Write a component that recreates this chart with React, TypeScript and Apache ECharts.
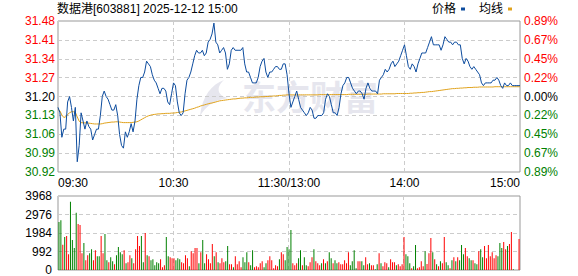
import React, { useEffect, useRef } from 'react';
import * as echarts from 'echarts';

const TITLE = '数据港[603881] 2025-12-12 15:00';
const PREV_CLOSE = 31.2;
const TICK_PCT = 0.2225; // one y tick step in percent

const priceTickLabels = ['30.92', '30.99', '31.06', '31.13', '31.20', '31.27', '31.34', '31.41', '31.48'];
const pctTickLabels = ['0.89%', '0.67%', '0.45%', '0.22%', '0.00%', '0.22%', '0.45%', '0.67%', '0.89%'];
const volTickLabels = ['0', '992', '1984', '2976', '3968'];

// price per minute, 09:30 .. 11:30/13:00 .. 15:00 (241 points)
const prices = [
  31.16, 31.14, 31.05, 31.08, 31.08, 31.18, 31.20, 31.16, 31.11, 31.16,
  30.96, 31.02, 31.14, 31.11, 31.08, 31.11, 31.09, 31.08, 31.04, 31.06,
  31.08, 31.08, 31.13, 31.20, 31.22, 31.20, 31.19, 31.17, 31.15, 31.15,
  31.17, 31.13, 31.06, 31.02, 31.01, 31.07, 31.05, 31.07, 31.10, 31.07,
  31.11, 31.19, 31.24, 31.27, 31.27, 31.29, 31.33, 31.32, 31.31, 31.28,
  31.26, 31.25, 31.23, 31.21, 31.23, 31.23, 31.22, 31.18, 31.17, 31.21,
  31.25, 31.24, 31.18, 31.14, 31.13, 31.14, 31.21, 31.26, 31.27, 31.29,
  31.32, 31.35, 31.37, 31.36, 31.36, 31.37, 31.35, 31.36, 31.40, 31.41,
  31.43, 31.47, 31.40, 31.39, 31.36, 31.37, 31.38, 31.36, 31.30, 31.32,
  31.37, 31.38, 31.37, 31.37, 31.37, 31.37, 31.38, 31.32, 31.29, 31.29,
  31.27, 31.25, 31.25, 31.25, 31.27, 31.31, 31.33, 31.34, 31.29, 31.27,
  31.29, 31.29, 31.30, 31.31, 31.31, 31.30, 31.30, 31.32, 31.32, 31.28,
  31.21, 31.16, 31.18, 31.20, 31.22, 31.19, 31.16, 31.15, 31.14, 31.13,
  31.14, 31.16, 31.15, 31.12, 31.12, 31.13, 31.13, 31.13, 31.14, 31.19,
  31.21, 31.20, 31.17, 31.14, 31.14, 31.13, 31.16, 31.21, 31.24, 31.25,
  31.27, 31.27, 31.25, 31.23, 31.22, 31.21, 31.22, 31.22, 31.21, 31.19,
  31.23, 31.25, 31.23, 31.22, 31.22, 31.22, 31.21, 31.26, 31.27, 31.28,
  31.30, 31.29, 31.30, 31.32, 31.33, 31.31, 31.32, 31.33, 31.35, 31.37,
  31.39, 31.35, 31.31, 31.30, 31.32, 31.31, 31.29, 31.32, 31.34, 31.36,
  31.36, 31.36, 31.38, 31.40, 31.42, 31.39, 31.39, 31.39, 31.39, 31.37,
  31.39, 31.42, 31.41, 31.40, 31.40, 31.39, 31.40, 31.40, 31.39, 31.39,
  31.34, 31.32, 31.34, 31.33, 31.31, 31.30, 31.31, 31.30, 31.29, 31.28,
  31.25, 31.24, 31.25, 31.25, 31.25, 31.25, 31.26, 31.26, 31.27, 31.26,
  31.24, 31.23, 31.25, 31.24, 31.24, 31.25, 31.24, 31.24, 31.24, 31.24,
  31.24,
];

// average price line per minute (241 points)
const averages = [
  31.153, 31.147, 31.132, 31.123, 31.125, 31.134, 31.140, 31.144, 31.144, 31.142, 31.125, 31.109, 31.104,
  31.103, 31.103, 31.103, 31.102, 31.101, 31.100, 31.099, 31.099, 31.099, 31.099,
  31.100, 31.102, 31.103, 31.104, 31.105, 31.106, 31.106, 31.107, 31.107,
  31.106, 31.105, 31.104, 31.104, 31.104, 31.104, 31.104, 31.105, 31.106, 31.107,
  31.110, 31.114, 31.118, 31.122, 31.126, 31.129, 31.131, 31.133, 31.134, 31.135,
  31.136, 31.136, 31.137, 31.137, 31.138, 31.138, 31.138, 31.139, 31.139,
  31.140, 31.141, 31.142, 31.143, 31.145, 31.147, 31.149, 31.151, 31.153, 31.155,
  31.157, 31.160, 31.162, 31.165, 31.167, 31.169, 31.171, 31.173, 31.175, 31.176,
  31.178, 31.180, 31.182, 31.184, 31.185, 31.186, 31.187, 31.188, 31.189, 31.190,
  31.191, 31.191, 31.192, 31.193, 31.194, 31.194, 31.195, 31.195, 31.196, 31.197,
  31.197, 31.197, 31.198, 31.198, 31.199, 31.199, 31.199, 31.200, 31.200, 31.201,
  31.201, 31.202, 31.202, 31.203, 31.204, 31.204, 31.205, 31.205, 31.206, 31.206,
  31.206, 31.206, 31.206, 31.206, 31.206, 31.206, 31.206, 31.206, 31.206, 31.206,
  31.206, 31.206, 31.206, 31.206, 31.206, 31.207, 31.207, 31.207, 31.207, 31.207,
  31.207, 31.207, 31.207, 31.207, 31.207, 31.207, 31.207, 31.207, 31.207, 31.207,
  31.208, 31.208, 31.208, 31.208, 31.208, 31.208, 31.208, 31.208, 31.208, 31.208,
  31.209, 31.209, 31.209, 31.209, 31.209, 31.209, 31.209, 31.209, 31.210, 31.210,
  31.210, 31.210, 31.210, 31.210, 31.210, 31.211, 31.211, 31.211, 31.211, 31.211,
  31.211, 31.211, 31.212, 31.212, 31.213, 31.213, 31.214, 31.214, 31.215, 31.215,
  31.216, 31.217, 31.218, 31.218, 31.219, 31.220, 31.221, 31.222, 31.223, 31.224,
  31.225, 31.226, 31.227, 31.228, 31.229, 31.229, 31.230, 31.230, 31.231, 31.231,
  31.232, 31.232, 31.233, 31.233, 31.233, 31.234, 31.234, 31.234, 31.235, 31.235,
  31.235, 31.235, 31.235, 31.235, 31.235, 31.235, 31.236, 31.236, 31.236, 31.236,
  31.236, 31.236, 31.236, 31.236, 31.236, 31.236, 31.236, 31.236, 31.236, 31.236,
];

// volume per minute (241 bars)
const volumes = [
  2580, 2670, 1353, 1768, 1822, 848, 3662, 1606, 1173, 3067,
  2471, 2417, 902, 1443, 523, 794, 902, 1119, 523, 1064,
  740, 740, 1822, 902, 1930, 523, 415, 686, 469, 307,
  794, 1227, 956, 848, 1064, 361, 415, 794, 631, 361,
  1119, 1822, 1281, 1822, 415, 1984, 794, 740, 523, 577,
  253, 415, 361, 577, 144, 253, 1768, 740, 686, 631,
  631, 523, 631, 577, 415, 361, 794, 631, 198, 1010,
  902, 1173, 1173, 361, 956, 1606, 361, 848, 577, 361,
  1389, 740, 956, 415, 361, 631, 415, 469, 1281, 307,
  307, 144, 740, 307, 469, 144, 686, 415, 956, 415,
  253, 1064, 144, 198, 144, 361, 469, 144, 361, 523,
  740, 523, 90, 253, 198, 577, 956, 848, 523, 1227,
  1119, 2147, 361,
  253, 361, 631, 1064, 253, 686, 253, 198,
  415, 686, 1119, 469, 361, 253, 361, 577, 361, 469,
  956, 631, 361, 523, 361, 415, 307, 307, 523, 361,
  956, 253, 469, 1064, 90, 469, 469, 469, 253, 686,
  307, 361, 253, 253, 36, 307, 902, 361, 198, 415,
  361, 144, 577, 415, 415, 253, 307, 198, 307, 1768,
  848, 740, 361, 90, 198, 1335, 90, 144, 469, 198,
  1010, 325, 902, 1714, 956, 577, 307, 198, 469, 361,
  1768, 415, 253, 90, 523, 686, 469, 686, 523, 1335,
  848, 1173, 740, 631, 523, 523, 361, 307, 1010, 1119,
  686, 1281, 631, 1335, 740, 956, 631, 794, 740, 1443,
  1173, 1497, 1119, 1281, 1389, 2039, 36,
  0, 0, 1660,
];

// r = up (red), g = down (green), one flag per volume bar
const volumeDirections = (
  'ggrgrrgggg' + 'rrrgrrggrr' + 'ggrrggrggr' + 'ggggrgrrgr' + 'rrrggrgrgg' +
  'gggrrrggrr' + 'rgggrrrrgr' + 'rrrgrggrrr' + 'rgrgrrrggr' + 'rgrrrrgggr' +
  'ggrrrrrggr' + 'rrrrrgrrgg' + 'ggr' +
  'rrggrggr' + 'rrgrrrgrgr' + 'ggrggrrrrr' + 'rggggrrggr' + 'rgrrggrgrr' +
  'rgrrrgrrrr' + 'gggrggrrrr' + 'grrrgrgrgr' + 'rggrgrgrgg' + 'grrggrggrg' +
  'grrrrrrrgg' + 'grrgrrg' + 'rrr'
).split('');

const FONT = "'Liberation Sans', Arial, 'Noto Sans CJK SC', sans-serif";
const RED = '#ff0000';
const GREEN = '#008000';
const PRICE_COLOR = '#0d4c9e';
const AVG_COLOR = '#e0a21c';

function pad(n: number) {
  return n < 10 ? '0' + n : String(n);
}

function buildCategories(): string[] {
  const out: string[] = [];
  for (let i = 0; i <= 240; i++) {
    if (i === 120) {
      out.push('11:30/13:00');
      continue;
    }
    const total = i < 120 ? 9 * 60 + 30 + i : 13 * 60 + (i - 120);
    out.push(pad(Math.floor(total / 60)) + ':' + pad(total % 60));
  }
  return out;
}

const toTick = (p: number) => ((p - PREV_CLOSE) / PREV_CLOSE) * 100 / TICK_PCT;

const LOGO_D = 'M26 0 C14 4 4 16 2 36 C8 26 16 20 30 18 C20 16 17 8 26 0 Z';

export default function App() {
  const ref = useRef<HTMLDivElement>(null);

  useEffect(() => {
    if (!ref.current) return;
    try {
      echarts.graphic.registerShape('emLogo', echarts.graphic.extendPath(LOGO_D, {}));
    } catch (e) {
      /* already registered */
    }
    const chart = echarts.init(ref.current, undefined, { renderer: 'svg' });
    const categories = buildCategories();
    const tickColor = (v: any) => {
      const k = Math.round(Number(v));
      return k > 0 ? RED : k < 0 ? GREEN : '#000';
    };
    const dashed = { type: [4, 3], color: '#cccccc', width: 1 };
    const splitInterval = (i: number) => i % 60 === 0 && i > 0 && i < 240;

    const option: any = {
      animation: false,
      textStyle: { fontFamily: FONT },
      title: {
        text: TITLE,
        left: 57,
        top: 3,
        padding: 0,
        textStyle: { fontSize: 12, fontWeight: 'normal', color: '#000', fontFamily: FONT },
      },
      legend: {
        data: ['价格', '均线'],
        right: 66,
        top: 3,
        padding: 0,
        align: 'right',
        icon: 'rect',
        itemWidth: 4,
        itemHeight: 3,
        itemGap: 14,
        textStyle: { fontSize: 12, color: '#000', fontFamily: FONT },
      },
      graphic: [
        {
          type: 'emLogo',
          x: 198,
          y: 80,
          scaleX: 1,
          scaleY: 1,
          silent: true,
          z: 0,
          style: { fill: '#e6e6ee' },
        },
        {
          type: 'text',
          left: 242,
          top: 78,
          silent: true,
          z: 0,
          style: { text: '东方财富', fill: '#e6e6ee', font: "bold 34px 'Noto Sans CJK SC'" },
        },
      ],
      grid: [
        { left: 58, top: 21, width: 462, height: 151, show: true, borderColor: '#999', borderWidth: 1 },
        { left: 58, top: 196, width: 462, height: 74, show: true, borderColor: '#999', borderWidth: 1 },
      ],
      xAxis: [
        {
          type: 'category',
          gridIndex: 0,
          data: categories,
          boundaryGap: false,
          axisLine: { show: false },
          axisTick: { show: false },
          axisLabel: {
            interval: (i: number) => i % 60 === 0,
            color: '#000',
            fontSize: 12,
            margin: 5,
            fontFamily: FONT,
            alignMinLabel: 'left',
            alignMaxLabel: 'right',
          },
          splitLine: { show: true, interval: splitInterval, lineStyle: dashed },
        },
        {
          type: 'category',
          gridIndex: 1,
          data: categories,
          boundaryGap: true,
          axisLine: { show: false },
          axisTick: { show: false },
          axisLabel: { show: false },
          splitLine: { show: true, interval: splitInterval, lineStyle: dashed },
        },
      ],
      yAxis: [
        {
          type: 'value',
          gridIndex: 0,
          position: 'left',
          min: -4,
          max: 4,
          interval: 1,
          axisLine: { show: false },
          axisTick: { show: false },
          axisLabel: {
            formatter: (v: number) => priceTickLabels[Math.round(v) + 4],
            color: tickColor,
            fontSize: 12,
            margin: 3,
            fontFamily: FONT,
          },
          splitLine: { show: true, lineStyle: dashed },
        },
        {
          type: 'value',
          gridIndex: 0,
          position: 'right',
          min: -4,
          max: 4,
          interval: 1,
          axisLine: { show: false },
          axisTick: { show: false },
          axisLabel: {
            formatter: (v: number) => pctTickLabels[Math.round(v) + 4],
            color: tickColor,
            fontSize: 12,
            margin: 4,
            fontFamily: FONT,
          },
          splitLine: { show: false },
        },
        {
          type: 'value',
          gridIndex: 1,
          min: 0,
          max: 3968,
          interval: 992,
          axisLine: { show: false },
          axisTick: { show: false },
          axisLabel: {
            formatter: (v: number) => volTickLabels[Math.round(v / 992)],
            color: '#000',
            fontSize: 12,
            margin: 6,
            fontFamily: FONT,
          },
          splitLine: { show: true, lineStyle: dashed },
        },
      ],
      series: [
        {
          name: '价格',
          type: 'line',
          xAxisIndex: 0,
          yAxisIndex: 0,
          data: prices.map(toTick),
          showSymbol: false,
          symbol: 'none',
          lineStyle: { color: PRICE_COLOR, width: 1 },
          itemStyle: { color: PRICE_COLOR },
          z: 4,
        },
        {
          name: '均线',
          type: 'line',
          xAxisIndex: 0,
          yAxisIndex: 0,
          data: averages.map(toTick),
          showSymbol: false,
          symbol: 'none',
          lineStyle: { color: AVG_COLOR, width: 1 },
          itemStyle: { color: AVG_COLOR },
          z: 3,
        },
        {
          name: '成交量',
          type: 'bar',
          xAxisIndex: 1,
          yAxisIndex: 2,
          barWidth: 1,
          data: volumes.map((v, i) => ({
            value: v,
            itemStyle: { color: volumeDirections[i] === 'r' ? RED : GREEN },
          })),
        },
      ],
    };
    chart.setOption(option);
    return () => chart.dispose();
  }, []);

  return (
    <div
      ref={ref}
      style={{ position: 'fixed', left: 0, top: 0, width: 578, height: 276, background: '#fff' }}
    />
  );
}
